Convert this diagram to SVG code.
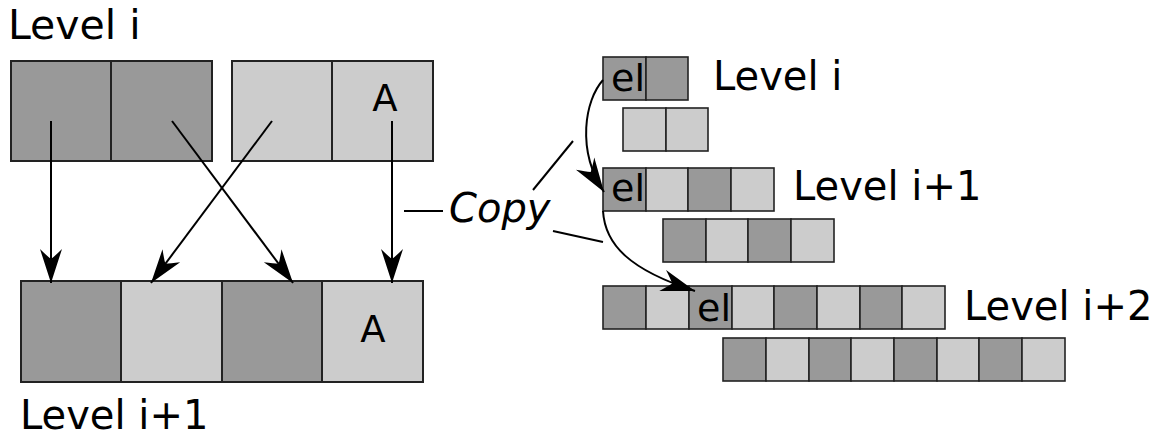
<svg xmlns="http://www.w3.org/2000/svg" width="1158" height="436" viewBox="0 0 1158 436">
<style>
.d{fill:#999999;stroke:#222;stroke-width:2}
.l{fill:#cccccc;stroke:#222;stroke-width:2}
.s{fill:#999999;stroke:#222;stroke-width:1.6}
.sl{fill:#cccccc;stroke:#222;stroke-width:1.6}
.t{font-family:"DejaVu Sans",Verdana,sans-serif;fill:#000}
.c{fill:none;stroke:#000;stroke-width:2}
</style>
<defs>
<marker id="ah" markerUnits="userSpaceOnUse" viewBox="-36 -13 38 26" refX="0" refY="0" markerWidth="38" markerHeight="26" orient="auto">
<path d="M0,0 L-34,-11 Q-27,-4 -24,0 Q-27,4 -34,11 Z" fill="#000"/>
</marker>
</defs>
<rect width="1158" height="436" fill="#fff"/>
<g id="top-left-block">
<rect class="d" x="11" y="61" width="100" height="100"/>
<rect class="d" x="111" y="61" width="101" height="100"/>
</g>
<g id="top-right-block">
<rect class="l" x="232" y="61" width="100" height="100"/>
<rect class="l" x="332" y="61" width="101" height="100"/>
<text class="t" x="385" y="111" font-size="37" text-anchor="middle">A</text>
</g>
<g id="bottom-block">
<rect class="d" x="21" y="281" width="100" height="101"/>
<rect class="l" x="121" y="281" width="101" height="101"/>
<rect class="d" x="222" y="281" width="100" height="101"/>
<rect class="l" x="322" y="281" width="101" height="101"/>
<text class="t" x="373" y="342" font-size="37" text-anchor="middle">A</text>
</g>
<text class="t" x="8" y="39" font-size="41">Level i</text>
<text class="t" x="20" y="429" font-size="40">Level i+1</text>
<g id="r1">
<rect class="s" x="603" y="57" width="43" height="43"/>
<rect class="s" x="646" y="57" width="42" height="43"/>
<text class="t" x="611" y="91" font-size="38">el</text>
</g>
<g id="r1b">
<rect class="sl" x="623" y="108" width="43" height="43"/>
<rect class="sl" x="666" y="108" width="42" height="43"/>
</g>
<g id="r2">
<rect class="s" x="603" y="168" width="43" height="43"/>
<rect class="sl" x="646" y="168" width="42" height="43"/>
<rect class="s" x="688" y="168" width="43" height="43"/>
<rect class="sl" x="731" y="168" width="43" height="43"/>
<text class="t" x="611" y="201" font-size="38">el</text>
</g>
<g id="r2b">
<rect class="s" x="663" y="219" width="43" height="43"/>
<rect class="sl" x="706" y="219" width="42" height="43"/>
<rect class="s" x="748" y="219" width="43" height="43"/>
<rect class="sl" x="791" y="219" width="43" height="43"/>
</g>
<g id="r3">
<rect class="s" x="603" y="286" width="43" height="43"/>
<rect class="sl" x="646" y="286" width="43" height="43"/>
<rect class="s" x="689" y="286" width="43" height="43"/>
<rect class="sl" x="732" y="286" width="42" height="43"/>
<rect class="s" x="774" y="286" width="43" height="43"/>
<rect class="sl" x="817" y="286" width="43" height="43"/>
<rect class="s" x="860" y="286" width="42" height="43"/>
<rect class="sl" x="902" y="286" width="43" height="43"/>
<text class="t" x="697" y="321" font-size="38">el</text>
</g>
<g id="r3b">
<rect class="s" x="723" y="338" width="43" height="43"/>
<rect class="sl" x="766" y="338" width="43" height="43"/>
<rect class="s" x="809" y="338" width="42" height="43"/>
<rect class="sl" x="851" y="338" width="43" height="43"/>
<rect class="s" x="894" y="338" width="43" height="43"/>
<rect class="sl" x="937" y="338" width="42" height="43"/>
<rect class="s" x="979" y="338" width="43" height="43"/>
<rect class="sl" x="1022" y="338" width="43" height="43"/>
</g>
<text class="t" x="713" y="90" font-size="40">Level i</text>
<text class="t" x="793" y="200" font-size="40">Level i+1</text>
<text class="t" x="964" y="320" font-size="40">Level i+2</text>
<text class="t" x="449" y="222" font-size="40" font-style="italic">Copy</text>
<g id="connectors">
<line class="c" x1="51" y1="121" x2="51" y2="283" marker-end="url(#ah)"/>
<line class="c" x1="172" y1="121" x2="293" y2="283" marker-end="url(#ah)"/>
<line class="c" x1="272" y1="121" x2="151" y2="283" marker-end="url(#ah)"/>
<line class="c" x1="392" y1="121" x2="392" y2="283" marker-end="url(#ah)"/>
<path class="c" d="M603,80 C585,100 576,150 604,192" marker-end="url(#ah)"/>
<path class="c" d="M603,211 C605,245 630,270 695,291" marker-end="url(#ah)"/>
<line class="c" x1="404" y1="211" x2="443" y2="211"/>
<line class="c" x1="533" y1="190" x2="573" y2="141"/>
<line class="c" x1="553" y1="231" x2="603" y2="242"/>
</g>
</svg>
